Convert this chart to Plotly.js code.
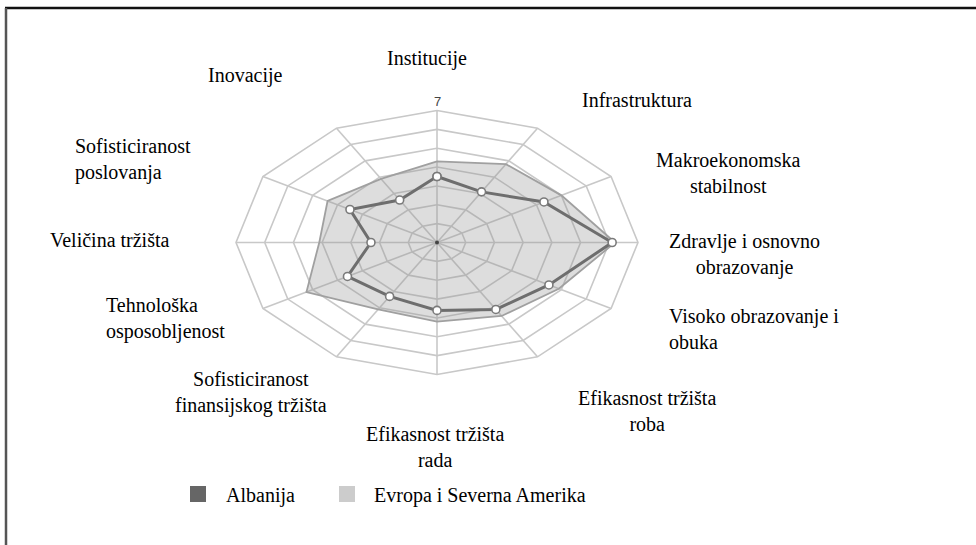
<!DOCTYPE html>
<html>
<head>
<meta charset="utf-8">
<script src="https://cdn.plot.ly/plotly-3.0.1.min.js"></script>
<style>html,body{margin:0;padding:0;background:#fff;}#chart{width:976px;height:545px;}</style>
</head>
<body>
<div id="chart"></div>
<script>
// ---- data ----
const categories = ['Institucije', 'Infrastruktura', 'Makroekonomska<br>stabilnost', 'Zdravlje i osnovno<br>obrazovanje',
  'Visoko obrazovanje i<br>obuka', 'Efikasnost tržišta<br>roba', 'Efikasnost tržišta<br>rada',
  'Sofisticiranost<br>finansijskog tržišta', 'Tehnološka<br>osposobljenost', 'Veličina tržišta',
  'Sofisticiranost<br>poslovanja', 'Inovacije'];
const albanija = [3.5, 3.1, 4.3, 6.1, 4.5, 4.1, 3.6, 3.3, 3.6, 2.3, 3.5, 2.6];
const evropa = [4.3, 4.8, 5.0, 6.2, 4.9, 4.5, 4.2, 4.1, 5.25, 4.1, 4.4, 3.9];
const ringValues = [1, 2, 3, 4, 5, 6, 7];
const scaleMax = 7;
const tickLabel = '7';
const seriesNames = ['Albanija', 'Evropa i Severna Amerika'];

// ---- layout constants (pixels) ----
const W = 976, H = 545;
const CX = 437, CY = 242.5;      // centre of the web
const RX = 201, RY = 132;        // outer ring half-width / half-height
const ux = RX / scaleMax, uy = RY / scaleMax;
const FONT = 'Liberation Serif, Times New Roman, serif';
const FS = 20;

const n = categories.length;
const ang = k => 2 * Math.PI * k / n;
function proj(vals) {
  const xs = [], ys = [];
  for (let i = 0; i <= n; i++) {
    const k = i % n;
    xs.push(vals[k] * Math.sin(ang(k)));
    ys.push(vals[k] * Math.cos(ang(k)));
  }
  return {x: xs, y: ys};
}

const traces = [];
// grid rings
ringValues.forEach(r => {
  const p = proj(new Array(n).fill(r));
  traces.push({x: p.x, y: p.y, mode: 'lines', line: {color: '#c8c8c8', width: 1.6},
    hoverinfo: 'skip', showlegend: false});
});
// spokes
for (let k = 0; k < n; k++) {
  traces.push({x: [0, scaleMax * Math.sin(ang(k))], y: [0, scaleMax * Math.cos(ang(k))],
    mode: 'lines', line: {color: '#c8c8c8', width: 1.6}, hoverinfo: 'skip', showlegend: false});
}
// Europe & North America
const pe = proj(evropa);
traces.push({x: pe.x, y: pe.y, mode: 'lines', fill: 'toself', fillcolor: 'rgba(150,150,150,0.32)',
  line: {color: '#a0a0a0', width: 1.8}, name: seriesNames[1], showlegend: false});
// Albania
const pa = proj(albanija);
traces.push({x: pa.x, y: pa.y, mode: 'lines+markers', line: {color: '#6e6e6e', width: 3},
  marker: {symbol: 'circle', size: 8, color: '#ffffff', line: {color: '#7a7a7a', width: 1.6}},
  name: seriesNames[0], showlegend: false});
// centre dot
traces.push({x: [0], y: [0], mode: 'markers', marker: {size: 4, color: '#444'}, hoverinfo: 'skip', showlegend: false});
// legend entries
traces.push({x: [null], y: [null], mode: 'markers', name: seriesNames[0], legend: 'legend',
  marker: {symbol: 'square', size: 18, color: '#666666'}});
traces.push({x: [null], y: [null], mode: 'markers', name: seriesNames[1], legend: 'legend2',
  marker: {symbol: 'square', size: 18, color: '#cccccc'}});

// category label placement (pixels): [x, y, xanchor]
const labelPos = [
  [427, 58, 'center'], [637, 100, 'center'], [728, 173.5, 'center'], [744, 254.5, 'center'],
  [667, 328.5, 'left'], [647, 410.5, 'center'], [435, 446.5, 'center'], [251, 392, 'center'],
  [104, 318, 'left'], [110, 240, 'center'], [73, 159.5, 'left'], [245, 75, 'center']
];
const annotations = categories.map((c, k) => ({
  text: c, xref: 'paper', yref: 'paper', x: labelPos[k][0] / W, y: 1 - labelPos[k][1] / H,
  xanchor: labelPos[k][2], yanchor: 'middle', align: labelPos[k][2] === 'left' ? 'left' : 'center',
  showarrow: false, font: {family: FONT, size: FS, color: '#000'}
}));
annotations.push({text: tickLabel, x: 0, y: scaleMax, xref: 'x', yref: 'y', yanchor: 'bottom', yshift: 0,
  showarrow: false, font: {family: 'Liberation Sans, Arial, sans-serif', size: 13, color: '#444'}});

const legendBase = {orientation: 'h', xanchor: 'left', yanchor: 'middle', y: 1 - 494 / H,
  font: {family: FONT, size: FS, color: '#000'}, bgcolor: 'rgba(0,0,0,0)', borderwidth: 0};

const layout = {
  width: W, height: H, margin: {l: 0, r: 0, t: 0, b: 0},
  paper_bgcolor: '#fff', plot_bgcolor: '#fff',
  xaxis: {range: [-CX / ux, (W - CX) / ux], visible: false, fixedrange: true},
  yaxis: {range: [-(H - CY) / uy, CY / uy], visible: false, fixedrange: true},
  showlegend: true,
  legend: Object.assign({}, legendBase, {x: 170 / W, itemwidth: 46}),
  legend2: Object.assign({}, legendBase, {x: 320 / W, itemwidth: 44}),
  annotations: annotations,
  shapes: [
    {type: 'line', xref: 'paper', yref: 'paper', x0: 5 / W, x1: 1, y0: 1 - 8 / H, y1: 1 - 8 / H,
      line: {color: '#111', width: 2.5}},
    {type: 'line', xref: 'paper', yref: 'paper', x0: 6 / W, x1: 6 / W, y0: 1 - 8 / H, y1: 0,
      line: {color: '#555', width: 2.5}}
  ]
};
Plotly.newPlot('chart', traces, layout, {staticPlot: true, displayModeBar: false});
</script>
</body>
</html>
